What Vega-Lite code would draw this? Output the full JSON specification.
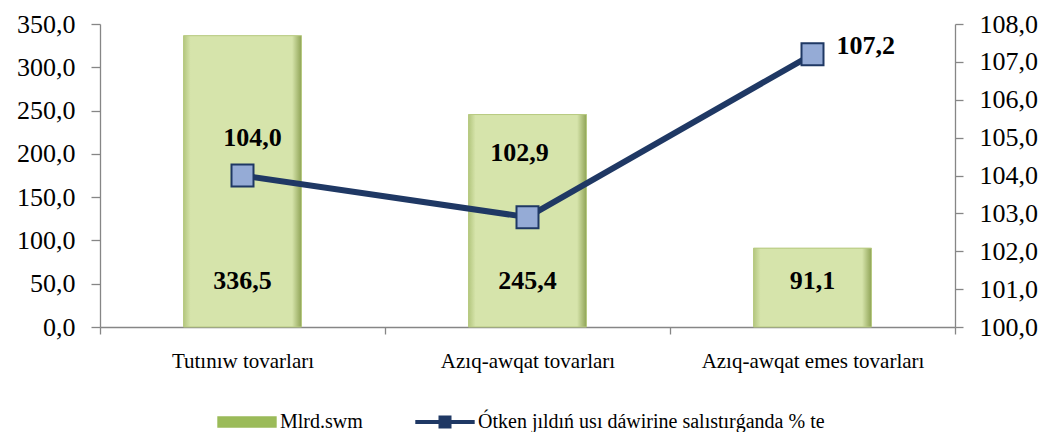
{
  "$schema": "https://vega.github.io/schema/vega-lite/v6.json",
  "width": 855,
  "height": 303,
  "autosize": {"type": "none"},
  "padding": {"left": 100, "top": 24, "right": 96, "bottom": 105},
  "background": "white",
  "config": {
    "view": {"stroke": null},
    "locale": {"number": {"decimal": ",", "thousands": " ", "grouping": [3], "currency": ["", ""]}},
    "font": "Liberation Serif",
    "axis": {"grid": false, "domainColor": "#868686", "tickColor": "#868686", "labelColor": "#000000", "labelFont": "Liberation Serif", "title": null, "domainWidth": 1.3, "tickWidth": 1.3, "labelOverlap": false},
    "legend": {"labelFont": "Liberation Serif", "labelFontSize": 20, "labelColor": "#000000"}
  },
  "data": {
    "values": [
      {"cat": "Tutınıw tovarları", "mlrd": 336.5, "pct": 104.0},
      {"cat": "Azıq-awqat tovarları", "mlrd": 245.4, "pct": 102.9},
      {"cat": "Azıq-awqat emes tovarları", "mlrd": 91.1, "pct": 107.2}
    ]
  },
  "encoding": {
    "x": {
      "field": "cat", "type": "nominal", "sort": null,
      "scale": {"paddingInner": 0, "paddingOuter": 0},
      "axis": {"labelAngle": 0, "labelFont": "Liberation Serif", "labelFontSize": 21, "labelPadding": 16, "tickSize": 7, "tickBand": "extent", "labelLimit": 400}
    }
  },
  "layer": [
    {
      "layer": [
        {
          "mark": {"type": "bar", "width": {"band": 0.414}},
          "encoding": {
            "y": {"field": "mlrd", "type": "quantitative", "scale": {"domain": [0, 350]},
                  "axis": {"orient": "left", "values": [0, 50, 100, 150, 200, 250, 300, 350], "format": ".1f", "tickSize": 9, "labelPadding": 16, "labelFontSize": 26, "labelOverlap": false}},
            "color": {
              "datum": "Mlrd.swm", "type": "nominal",
              "scale": {"domain": ["Mlrd.swm", "Ótken jıldıń usı dáwirine salıstırǵanda  % te"], "range": ["#9bbb59", "#1f3864"]},
              "legend": {
                "orient": "none", "legendX": 117, "legendY": 368, "direction": "horizontal", "title": null,
                "labelFont": "Liberation Serif", "labelFontSize": 20, "labelColor": "#000000", "labelLimit": 0,
                "labelOffset": 3, "columnPadding": 50, "symbolSize": 3364,
                "encode": {
                  "labels": {"update": {"font": {"value": "Liberation Serif"}}},
                  "symbols": {
                    "update": {
                      "shape": {"signal": "datum.value === 'Mlrd.swm' ? 'M-1,-0.17H1V0.17H-1Z' : 'M-1,-0.045H-0.2V-0.2H0.2V-0.045H1V0.045H0.2V0.2H-0.2V0.045H-1Z'"},
                      "fill": {"signal": "datum.value === 'Mlrd.swm' ? '#8fbc52' : '#95abd6'"},
                      "stroke": {"signal": "datum.value === 'Mlrd.swm' ? '#5a7a2a' : '#1f3864'"},
                      "strokeWidth": {"value": 1.4},
                      "opacity": {"value": 1}
                    }
                  }
                }
              }
            }
          }
        },
        {
          "mark": {
            "type": "bar", "width": {"band": 0.414},
            "fill": {"gradient": "linear", "x1": 0, "y1": 0, "x2": 1, "y2": 0,
                     "stops": [{"offset": 0, "color": "#b3c67e"}, {"offset": 0.06, "color": "#d6e4ab"}, {"offset": 0.92, "color": "#d6e4ab"}, {"offset": 1, "color": "#8fa356"}]},
            "stroke": "#b8ca82", "strokeWidth": 1
          },
          "encoding": {"y": {"field": "mlrd", "type": "quantitative", "scale": {"domain": [0, 350]},
                  "axis": {"orient": "left", "values": [0, 50, 100, 150, 200, 250, 300, 350], "format": ".1f", "tickSize": 9, "labelPadding": 16, "labelFontSize": 26, "labelOverlap": false}}}
        },
        {
          "mark": {"type": "text", "fontWeight": "bold", "fontSize": 26, "font": "Liberation Serif", "baseline": "middle", "color": "#000000"},
          "encoding": {
            "y": {"datum": 53, "type": "quantitative", "scale": {"domain": [0, 350]},
                  "axis": {"orient": "left", "values": [0, 50, 100, 150, 200, 250, 300, 350], "format": ".1f", "tickSize": 9, "labelPadding": 16, "labelFontSize": 26, "labelOverlap": false}},
            "text": {"field": "mlrd", "type": "quantitative", "format": ".1f"}
          }
        }
      ]
    },
    {
      "encoding": {
        "y": {"field": "pct", "type": "quantitative", "scale": {"domain": [100, 108]},
              "axis": {"orient": "right", "values": [100, 101, 102, 103, 104, 105, 106, 107, 108], "format": ".1f", "tickSize": 8, "labelPadding": 16, "labelFontSize": 26, "labelOverlap": false}}
      },
      "layer": [
        {
          "mark": {"type": "line", "strokeWidth": 6},
          "encoding": {
            "color": {"datum": "Ótken jıldıń usı dáwirine salıstırǵanda  % te", "type": "nominal"}
          }
        },
        {
          "mark": {"type": "point", "shape": "square", "filled": true, "fill": "#95abd6", "stroke": "#1f3864", "strokeWidth": 2, "size": 484, "opacity": 1}
        },
        {
          "transform": [{"filter": "datum.cat === 'Tutınıw tovarları'"}],
          "mark": {"type": "text", "fontWeight": "bold", "fontSize": 26, "font": "Liberation Serif", "baseline": "middle", "dx": 10, "dy": -38, "color": "#000000"},
          "encoding": {"text": {"field": "pct", "type": "quantitative", "format": ".1f"}}
        },
        {
          "transform": [{"filter": "datum.cat === 'Azıq-awqat tovarları'"}],
          "mark": {"type": "text", "fontWeight": "bold", "fontSize": 26, "font": "Liberation Serif", "baseline": "middle", "dx": -8, "dy": -64, "color": "#000000"},
          "encoding": {"text": {"field": "pct", "type": "quantitative", "format": ".1f"}}
        },
        {
          "transform": [{"filter": "datum.cat === 'Azıq-awqat emes tovarları'"}],
          "mark": {"type": "text", "fontWeight": "bold", "fontSize": 26, "font": "Liberation Serif", "baseline": "middle", "align": "left", "dx": 24, "dy": -8, "color": "#000000"},
          "encoding": {"text": {"field": "pct", "type": "quantitative", "format": ".1f"}}
        }
      ]
    }
  ],
  "resolve": {"scale": {"y": "independent"}}
}
